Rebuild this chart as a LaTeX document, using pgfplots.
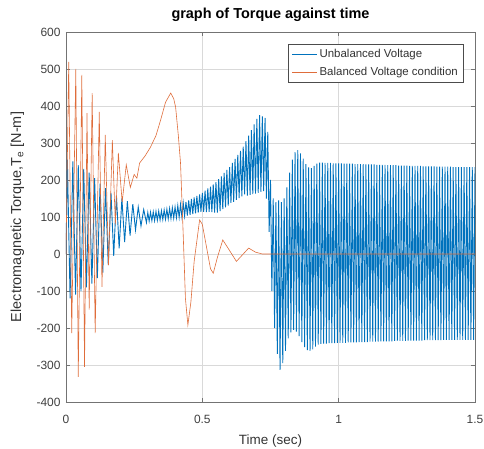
\documentclass[border=0pt]{standalone}
\usepackage{fontspec}
\setmainfont{Liberation Sans}
\usepackage{pgfplots}
\pgfplotsset{compat=1.18}
\definecolor{mblue}{rgb}{0,0.447,0.741}
\definecolor{morange}{rgb}{0.85,0.325,0.098}

\begin{document}
\begin{tikzpicture}
\begin{axis}[
    name=ax,
    scale only axis,
    width=409bp, height=370bp,
    xmin=0, xmax=1.5, ymin=-400, ymax=600,
    xtick={0,0.5,1,1.5}, xticklabels={0,0.5,1,1.5},
    ytick={-400,-300,-200,-100,0,100,200,300,400,500,600},
    yticklabels={-400,-300,-200,-100,0,100,200,300,400,500,600},
    tick align=inside, major tick length=4bp,
    xtick pos=both, ytick pos=both,
    grid=major, grid style={black!15, line width=0.4bp},
    axis line style={black!55, line width=0.6bp},
    tick style={black!55, line width=0.6bp},
    ticklabel style={font=\fontsize{12}{14}\selectfont, text=black!75},
    xticklabel style={anchor=base, yshift=-21bp},
    yticklabel style={xshift=-2bp},
    title={graph of Torque against time},
    title style={at={(axis description cs:0.5,1)}, anchor=base, yshift=8bp,
        font=\bfseries\fontsize{14.5}{16}\selectfont},
    xlabel={Time (sec)},
    xlabel style={at={(axis description cs:0.5,0)}, anchor=base, yshift=-42bp,
        font=\fontsize{13.5}{15}\selectfont, text=black!80},
    ylabel={Electromagnetic Torque,T\textsubscript{e} [N-m]},
    ylabel style={at={(axis description cs:-0.1186,0.5)}, anchor=center,
        font=\fontsize{14.5}{16}\selectfont, text=black!80},
    legend cell align=left,
    legend style={at={(1,1)}, anchor=north east, xshift=-12bp, yshift=-12bp,
        draw=black!70, fill=white, font=\fontsize{11.5}{13}\selectfont,
        text=black!80, row sep=4bp, inner sep=3bp},
    legend image code/.code={\draw[#1] (0bp,0bp) -- (25bp,0bp);},
]
\addplot[mblue, line width=0.9bp] coordinates {
(0,0)
(0.005,255) (0.015,-120) (0.025,250) (0.035,-110) (0.045,240) (0.055,-100)
(0.065,230) (0.075,-90) (0.085,220) (0.095,-80) (0.105,205) (0.115,-65)
(0.125,190) (0.135,-50) (0.145,178) (0.155,-30) (0.165,165) (0.175,-5)
(0.185,158) (0.195,15) (0.205,150) (0.215,32) (0.225,143) (0.235,50)
(0.245,135) (0.255,65) (0.265,127) (0.275,76) (0.285,120) (0.295,85)
(0.300,112) (0.305,89) (0.310,113) (0.315,90) (0.320,114) (0.325,90)
(0.330,115) (0.335,91) (0.340,116) (0.345,92) (0.350,117) (0.355,93)
(0.360,119) (0.365,94) (0.370,121) (0.375,95) (0.380,123) (0.385,96)
(0.390,125) (0.395,97) (0.400,127) (0.405,98) (0.410,131) (0.415,99)
(0.420,134) (0.425,101) (0.430,138) (0.435,103) (0.440,141) (0.445,104)
(0.450,145) (0.455,106) (0.460,149) (0.465,108) (0.470,153) (0.475,110)
(0.480,157) (0.485,112) (0.490,161) (0.495,114) (0.500,165) (0.505,114)
(0.510,171) (0.515,113) (0.520,177) (0.525,114) (0.530,182) (0.535,113)
(0.540,188) (0.545,112) (0.550,194) (0.555,112) (0.560,202) (0.565,116)
(0.570,210) (0.575,121) (0.580,219) (0.585,126) (0.590,227) (0.595,131)
(0.600,235) (0.605,138) (0.610,246) (0.615,141) (0.620,257) (0.625,146)
(0.630,268) (0.635,151) (0.640,279) (0.645,156) (0.650,290) (0.655,161)
(0.660,305) (0.665,158) (0.670,320) (0.675,160) (0.680,335) (0.685,162)
(0.690,350) (0.695,163) (0.700,365) (0.705,165) (0.710,375) (0.715,168)
(0.720,372) (0.725,170) (0.730,368) (0.735,150)
(0.740,330) (0.745,60) (0.750,200) (0.755,-100) (0.760,150) (0.765,-200)
(0.770,140) (0.775,-270) (0.780,145) (0.785,-313) (0.790,140) (0.795,-295)
(0.800,150) (0.805,-262) (0.810,180) (0.815,-228) (0.820,220) (0.825,-212)
(0.830,255) (0.835,-205) (0.840,275) (0.845,-210) (0.850,281) (0.855,-222)
(0.860,272) (0.865,-238) (0.870,258) (0.875,-252) (0.880,243) (0.885,-260)
(0.890,234) (0.895,-262) (0.900,232) (0.905,-258) (0.910,238) (0.915,-250)
(0.920,244) (0.925,-245)
(0.930,247) (0.935,-243) (0.940,247) (0.945,-242) (0.950,246) (0.955,-242)
(0.960,246) (0.965,-241) (0.970,246) (0.975,-241) (0.980,245) (0.985,-241)
(0.990,245) (0.995,-240)
(1.000,245) (1.005,-240) (1.010,245) (1.015,-240) (1.020,244) (1.025,-240)
(1.030,244) (1.035,-239) (1.040,244) (1.045,-239) (1.050,244) (1.055,-239)
(1.060,243) (1.065,-239) (1.070,243) (1.075,-238) (1.080,243) (1.085,-238)
(1.090,243) (1.095,-238)
(1.100,242) (1.105,-238) (1.110,242) (1.115,-237) (1.120,242) (1.125,-237)
(1.130,242) (1.135,-237) (1.140,241) (1.145,-237) (1.150,241) (1.155,-236)
(1.160,241) (1.165,-236) (1.170,241) (1.175,-236) (1.180,240) (1.185,-236)
(1.190,240) (1.195,-236)
(1.200,240) (1.205,-235) (1.210,240) (1.215,-235) (1.220,239) (1.225,-235)
(1.230,239) (1.235,-235) (1.240,239) (1.245,-235) (1.250,239) (1.255,-234)
(1.260,238) (1.265,-234) (1.270,238) (1.275,-234) (1.280,238) (1.285,-234)
(1.290,238) (1.295,-234)
(1.300,238) (1.305,-234) (1.310,237) (1.315,-233) (1.320,237) (1.325,-233)
(1.330,237) (1.335,-233) (1.340,237) (1.345,-233) (1.350,237) (1.355,-233)
(1.360,236) (1.365,-233) (1.370,236) (1.375,-233) (1.380,236) (1.385,-232)
(1.390,236) (1.395,-232)
(1.400,236) (1.405,-232) (1.410,236) (1.415,-232) (1.420,235) (1.425,-232)
(1.430,235) (1.435,-232) (1.440,235) (1.445,-232) (1.450,235) (1.455,-232)
(1.460,235) (1.465,-232) (1.470,235) (1.475,-232) (1.480,235) (1.485,-232)
(1.490,235) (1.495,-232) (1.500,235)
};
\addlegendentry{Unbalanced Voltage}
\addplot[morange!85, line width=0.6bp] coordinates {
(0,0) (0.010,519) (0.021,-214) (0.036,500) (0.045,-332) (0.058,484)
(0.068,-305) (0.077,381) (0.085,-150) (0.096,435) (0.107,-214) (0.122,384)
(0.132,-89) (0.144,322) (0.156,-30) (0.170,308) (0.181,80) (0.192,273)
(0.206,140) (0.221,241) (0.236,180) (0.250,215) (0.260,205) (0.270,246)
(0.290,265) (0.310,289) (0.330,320) (0.347,362) (0.365,410) (0.384,435)
(0.395,420) (0.402,397) (0.412,320) (0.420,246) (0.430,50) (0.438,-120)
(0.447,-192) (0.458,-130) (0.470,-20) (0.490,92) (0.500,80) (0.515,20)
(0.530,-40) (0.540,-52) (0.555,-10) (0.575,38) (0.595,15) (0.625,-20)
(0.650,0) (0.670,16) (0.695,5) (0.720,0) (1.500,0)
};
\addlegendentry{Balanced Voltage condition}
\end{axis}
\pgfresetboundingbox
\useasboundingbox ([xshift=-66bp,yshift=-47bp]ax.south west) rectangle ([xshift=9bp,yshift=32bp]ax.north east);
\end{tikzpicture}
\end{document}
